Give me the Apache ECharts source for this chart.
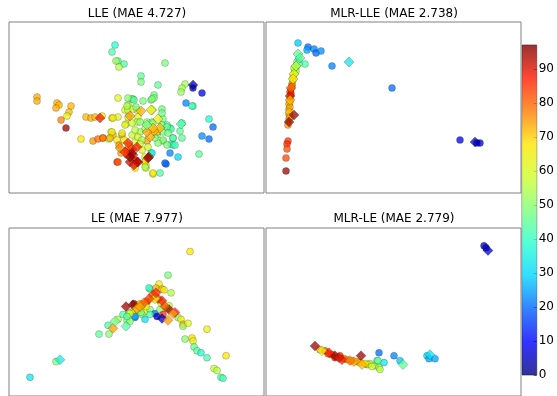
<!DOCTYPE html>
<html>
<head>
<meta charset="utf-8">
<script src="https://cdn.jsdelivr.net/npm/echarts@6/dist/echarts.min.js"></script>
<style>
  html, body { margin: 0; padding: 0; background: #fff; }
  #chart { width: 557px; height: 396px; }
</style>
</head>
<body>
<div id="chart"></div>
<script>
// panel titles
var titles = ['LLE (MAE 4.727)', 'MLR-LLE (MAE 2.738)', 'LE (MAE 7.977)', 'MLR-LE (MAE 2.779)'];

// embedding points: [x, y, value]  (x 0..255, y 0..171 from top)
var lleCircles = [
  [106,23,38],[103,30,43],[109,39,45],[107,39,52],[115,42,43],[110,45,55],
  [28,75,73],[28,79,73],[48,81,73],[50,83,72],[62,84,72],[47,86,73],[60,90,72],
  [58,94,63],[52,98,77],[57,106,95],[77,95,72],[82,96,73],[86,95,72],[93,94,66],
  [103,96,71],[72,117,68],[84,119,75],[89,117,79],[94,116,77],[108,140,83],
  [109,76,62],[124,77,45],[119,83,53],[116,88,60],[119,88,55],[117,102,66],
  [102,110,62],[104,113,73],[100,117,55],[113,113,75],
  [156,41,48],[132,54,45],[132,60,48],[149,63,45],[176,62,53],[173,66,53],[172,70,52],
  [184,66,5],[193,71,8],[177,81,22],[184,84,42],[123,77,45],[134,79,48],[142,78,48],
  [145,73,47],[145,76,50],[153,87,47],[200,97,38],[204,105,20],[171,109,45],
  [173,116,45],[193,114,23],[200,117,20],[161,106,45],[162,107,43],[164,116,45],
  [154,119,47],[162,122,43],[164,123,38],[161,131,22],[169,135,30],[190,132,45],
  [157,142,18],[142,131,33],[151,151,43],[144,152,68],[137,146,56],[137,143,58],
  [138,119,74],[129,95,63],[128,88,58],[124,87,60],[138,100,50],[136,107,53],
  [131,110,52],[154,97,48],[158,103,45],[154,110,47],[148,113,48],[143,100,50],
  [128,100,55],[123,113,57],[126,120,58],[121,127,60],
  [119,76,50],[125,78,45],[143,77,48],[118,84,55],[127,85,48],[153,91,47],
  [109,95,62],[119,95,56],[116,103,62],[123,101,58],[131,100,50],[144,101,48],
  [153,103,46],[158,105,45],[173,101,43],[183,84,42],[104,96,64],[103,110,64],
  [113,111,62],[108,118,63],[101,116,72],[94,116,78],[118,128,85],[126,138,84],
  [133,128,62],[136,135,64],[143,131,36],[136,140,70],[136,145,55],[144,151,64],
  [156,141,20],[109,140,82],[148,110,72],[159,111,48],[164,116,43],[154,118,50],
  [158,123,48],[166,123,42],[149,121,50],[146,116,48],[126,108,56],[129,115,62],
  [133,118,52],[120,124,70],[115,118,68],[110,123,76],[131,122,60],[139,125,58],
  [126,146,68],[118,133,80],[112,131,74]
];
var lleDiamonds = [
  [91,96,88],[121,94,75],[184,63,3],[172,102,43],[140,135,92],[143,88,62],[132,89,73],
  [149,97,65],[151,106,72],[145,109,73],[141,115,73],[123,127,85],[124,133,88],
  [128,140,90],[121,140,92],[119,121,87],[111,126,76],[123,131,95],[128,125,88],
  [121,135,96],[129,140,94],[139,136,95],[138,110,74],[144,106,72],[138,103,48],
  [142,88,62],[116,130,86],[125,143,90]
];

var mlrLleCircles = [
  [32,21,28],[42,25,20],[41,28,25],[48,27,22],[50,31,20],[55,29,23],[66,44,22],
  [33,37,42],[39,42,43],[30,45,50],[29,48,58],[27,55,68],[27,58,70],[26,62,75],
  [25,67,82],[24,70,85],[24,77,93],[23,82,72],[23,87,72],[23,92,73],[23,97,75],
  [22,103,75],[22,119,85],[21,122,86],[21,127,82],[20,136,83],[20,149,95],
  [126,66,20],[194,118,8],[211,121,5],[214,121,5],[31,40,47],[28,52,60],[26,64,78],
  [25,72,88],[24,80,70],[24,85,74],[23,90,71],[24,95,74],[30,49,52],[28,46,55]
];
var mlrLleDiamonds = [
  [83,40,33],[32,32,45],[32,42,47],[28,52,63],[24,74,90],[23,100,95],[28,93,95],
  [209,120,4],[34,36,44],[30,44,55],[27,57,67],[25,66,80],[24,78,72]
];

var leCircles = [
  [21,152,33],[47,136,48],[90,108,45],[100,108,50],[99,99,43],[109,93,55],[118,94,48],
  [114,88,43],[125,77,95],[126,91,22],[124,85,62],[120,86,48],
  [181,24,68],[159,48,48],[150,57,63],[162,66,55],[141,62,43],[147,61,73],[153,62,73],
  [155,63,65],[138,75,85],[134,78,75],[131,77,72],[136,85,60],[141,83,50],[146,87,20],
  [151,83,50],[158,82,48],[148,90,5],[154,88,85],[169,91,50],[172,93,65],[174,98,72],
  [174,100,52],[179,97,62],[126,90,25],[133,88,52],[136,93,32],[141,88,43],
  [198,103,64],[176,113,50],[183,112,68],[184,115,65],[185,121,45],[188,125,45],
  [192,127,38],[198,132,42],[217,130,68],[205,143,57],[208,145,55],[212,152,43],
  [214,153,42],[140,61,40],[121,95,50],[121,87,62],[129,84,55],[137,80,64],[143,72,66],
  [152,76,60],[160,79,58],[132,86,48],[118,90,45]
];
var leDiamonds = [
  [51,134,35],[104,102,74],[106,95,47],[117,100,43],[117,80,95],[128,82,75],
  [144,68,82],[149,72,85],[153,74,88],[146,72,63],[124,78,95],[128,82,72],
  [153,92,5],[160,83,95],[166,86,87],[164,87,75],[159,94,75],[140,72,84],[135,76,80],
  [131,80,74],[156,80,82],[147,66,86]
];

var mlrLeCircles = [
  [218,18,5],[220,20,5],[113,127,20],[128,130,22],[134,135,28],[161,130,30],
  [163,133,25],[169,133,25],[118,137,33],[54,124,73],[59,125,82],[66,129,85],
  [74,130,85],[81,134,75],[86,135,73],[91,136,72],[101,139,73],[104,138,52],
  [109,140,62],[113,142,50],[114,144,56],[111,135,43],[69,132,84],[94,137,72],
  [102,139,66],[112,135,45],[99,138,64],[106,141,57],[62,128,80],[78,133,78]
];
var mlrLeDiamonds = [
  [222,23,5],[137,139,45],[164,129,32],[95,130,95],[49,120,95],[69,130,95],
  [76,134,87],[96,139,72],[63,127,88],[73,132,90],[56,125,65],[88,136,74],[84,135,78]
];

// colorbar range and ticks
var colorMin = 0;
var colorMax = 97;
var colorTickStep = 10;

var jet = ['#00007f', '#0000ff', '#0063ff', '#00d4ff', '#29ffce', '#7dff7a',
           '#ceff29', '#ffe600', '#ff7a00', '#ff1a00', '#800000'];
var jetStops = jet.map(function (c, i) { return { offset: 1 - i / (jet.length - 1), color: c }; });

var panelGrids = [
  { left: 9, top: 22, width: 255, height: 171 },
  { left: 266, top: 22, width: 255, height: 171 },
  { left: 9, top: 228, width: 255, height: 171 },
  { left: 266, top: 228, width: 255, height: 171 }
];
var titlePos = [[137, 8], [394, 8], [137, 213], [394, 213]];

var grid = panelGrids.map(function (g) {
  return Object.assign({ show: true, borderColor: '#808080', borderWidth: 1, backgroundColor: '#fff' }, g);
});
// 颜色条
grid.push({ left: 522, top: 45, width: 23, height: 330, show: true, borderColor: '#808080', borderWidth: 1 });

var xAxis = [], yAxis = [];
for (var i = 0; i < 4; i++) {
  xAxis.push({ gridIndex: i, type: 'value', min: 0, max: 255, show: false });
  yAxis.push({ gridIndex: i, type: 'value', min: 0, max: 171, inverse: true, show: false });
}
xAxis.push({ gridIndex: 4, type: 'category', data: ['c'], show: false });
yAxis.push({
  gridIndex: 4, type: 'value', position: 'right', min: colorMin, max: colorMax, interval: colorTickStep,
  axisLine: { show: false },
  axisTick: { show: true, inside: true, length: 3, lineStyle: { color: '#555' } },
  splitLine: { show: false },
  axisLabel: { showMaxLabel: false, color: '#000', fontSize: 12, fontFamily: 'DejaVu Sans', margin: 2 }
});

var pointSets = [
  [lleCircles, lleDiamonds], [mlrLleCircles, mlrLleDiamonds],
  [leCircles, leDiamonds], [mlrLeCircles, mlrLeDiamonds]
];
var series = [];
pointSets.forEach(function (set, i) {
  series.push({
    type: 'scatter', xAxisIndex: i, yAxisIndex: i, symbol: 'circle', symbolSize: 7,
    data: set[0],
    itemStyle: { opacity: 0.75, borderColor: 'rgba(0,0,0,0.45)', borderWidth: 0.6 }
  });
  series.push({
    type: 'scatter', xAxisIndex: i, yAxisIndex: i, symbol: 'diamond', symbolSize: 10,
    data: set[1],
    itemStyle: { opacity: 0.75, borderColor: 'rgba(0,0,0,0.45)', borderWidth: 0.6 }
  });
});
series.push({
  type: 'bar', xAxisIndex: 4, yAxisIndex: 4, barWidth: '100%', silent: true,
  data: [colorMax],
  itemStyle: { opacity: 0.8, color: new echarts.graphic.LinearGradient(0, 0, 0, 1, jetStops) }
});

var option = {
  animation: false,
  backgroundColor: '#fff',
  title: titles.map(function (t, i) {
    return {
      text: t, left: titlePos[i][0], top: titlePos[i][1], textAlign: 'center', padding: 0,
      textStyle: { fontFamily: 'DejaVu Sans', fontSize: 12, fontWeight: 'normal', color: '#000' }
    };
  }),
  grid: grid,
  xAxis: xAxis,
  yAxis: yAxis,
  visualMap: {
    show: false, type: 'continuous', min: colorMin, max: colorMax, dimension: 2,
    seriesIndex: [0, 1, 2, 3, 4, 5, 6, 7],
    inRange: { color: jet }
  },
  series: series
};

var myechart = echarts.init(document.getElementById('chart'), null, { renderer: 'canvas' });
myechart.setOption(option);
</script>
</body>
</html>
